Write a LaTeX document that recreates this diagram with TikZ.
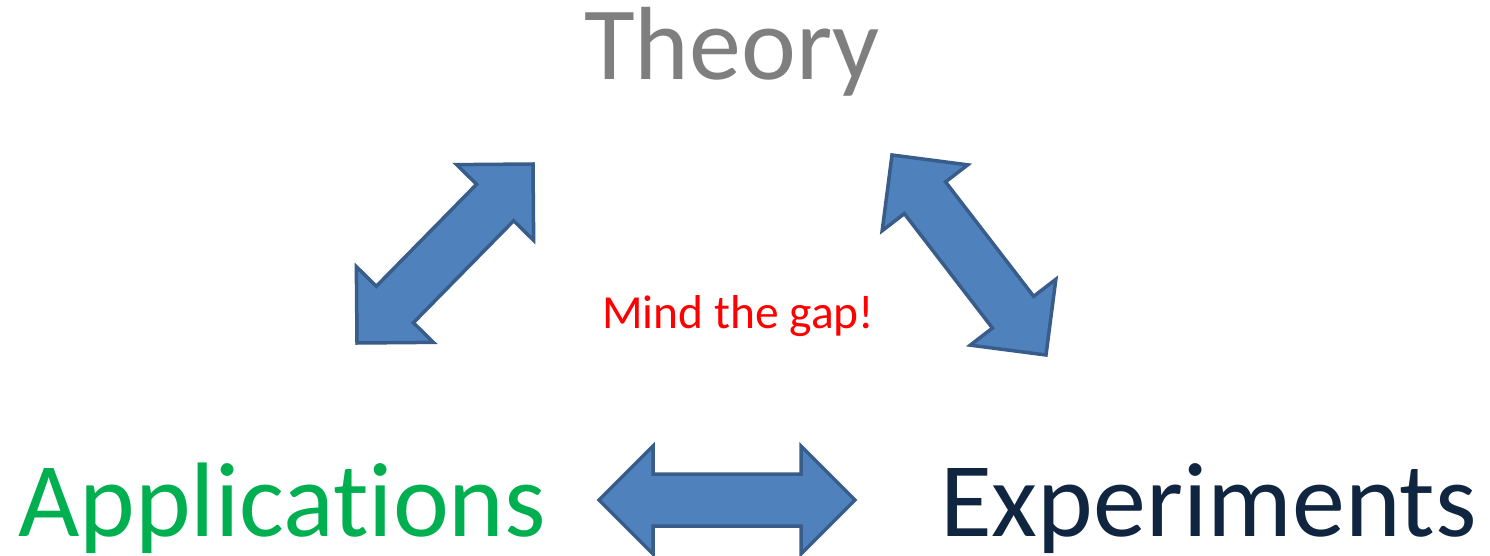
\documentclass[tikz,border=0pt]{standalone}
\usepackage{tikz}
\usepackage{xcolor}
\usepackage{fontspec}
\setmainfont{Carlito}[Ligatures=NoCommon]
\usetikzlibrary{calc}
\definecolor{arrowfill}{HTML}{4F81BD}
\definecolor{arrowline}{HTML}{385D8A}
\definecolor{theorygray}{HTML}{7F7F7F}
\definecolor{appgreen}{HTML}{00B050}
\definecolor{expnavy}{HTML}{10253F}

\tikzset{
  bigword/.style={inner sep=0pt, anchor=base west,
                  font=\fontsize{106pt}{110pt}\selectfont},
  fatarrow/.style={draw=arrowline, fill=arrowfill, line width=3.5pt,
                   line join=miter}
}
\newcommand{\headlen}{54pt}
\newcommand{\headhalf}{54pt}
\newcommand{\shafthalf}{26pt}
% double arrow from #1 to #2
\newcommand{\gaparrow}[2]{%
  \draw[fatarrow] (#1)
    -- ($(#1)!\headlen!(#2)!\headhalf!90:(#2)$)
    -- ($(#1)!\headlen!(#2)!\shafthalf!90:(#2)$)
    -- ($(#2)!\headlen!(#1)!\shafthalf!-90:(#1)$)
    -- ($(#2)!\headlen!(#1)!\headhalf!-90:(#1)$)
    -- (#2)
    -- ($(#2)!\headlen!(#1)!\headhalf!90:(#1)$)
    -- ($(#2)!\headlen!(#1)!\shafthalf!90:(#1)$)
    -- ($(#1)!\headlen!(#2)!\shafthalf!-90:(#2)$)
    -- ($(#1)!\headlen!(#2)!\headhalf!-90:(#2)$)
    -- cycle;}

\begin{document}
\begin{tikzpicture}[x=1pt, y=-1pt]
    \useasboundingbox (0,0) rectangle (1490,556);

    \node[bigword, text=theorygray, font=\fontsize{104pt}{110pt}\selectfont]
         (theory) at (584,80) {Theory};
    \node[bigword, text=appgreen] (appl) at (18,536) {Applications};
    \node[bigword, text=expnavy] (expt) at (940,536) {Experiments};
    \node[inner sep=0pt, anchor=base west, text=red,
          font=\fontsize{47.5pt}{50pt}\selectfont] (gap) at (602,328) {Mind the gap!};

    % arrow ends
    \coordinate (tl) at (357,343);
    \coordinate (tr) at (533,164);
    \coordinate (rt) at (892,155);
    \coordinate (rb) at (1046,355);
    \coordinate (bl) at (599,500);
    \coordinate (br) at (855,500);

    \gaparrow{tl}{tr}
    \gaparrow{rt}{rb}
    \gaparrow{bl}{br}
\end{tikzpicture}
\end{document}
